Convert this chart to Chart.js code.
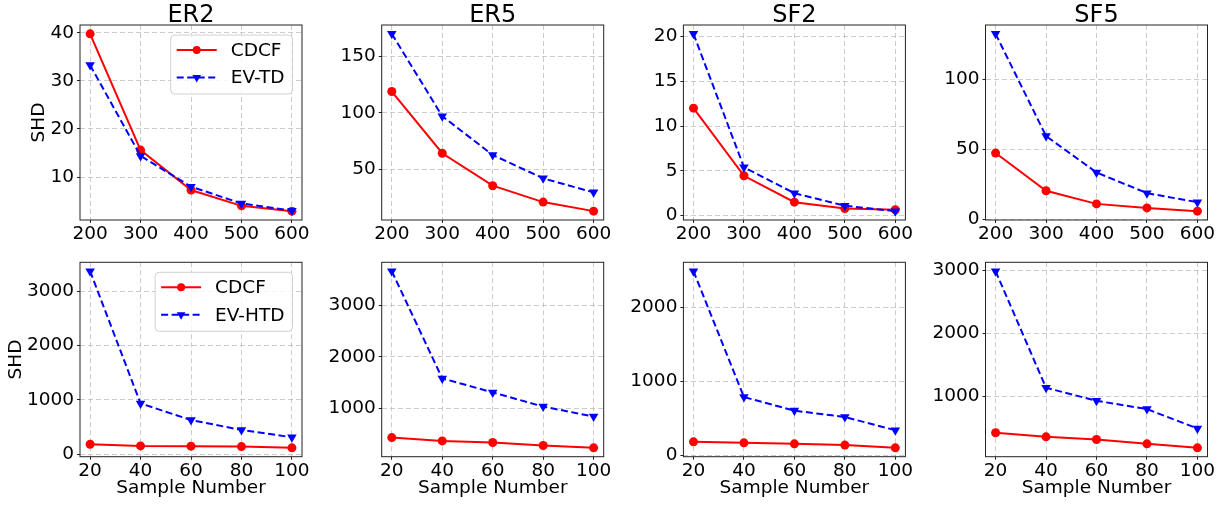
<!DOCTYPE html>
<html>
<head>
<meta charset="utf-8">
<script src="https://cdn.jsdelivr.net/npm/chart.js@4.4.1/dist/chart.umd.min.js"></script>
<style>
  html, body { margin: 0; padding: 0; background: #fff; }
  body { width: 1226px; height: 508px; position: relative; overflow: hidden; }
  .panel { position: absolute; }
</style>
</head>
<body>
<script>
// x categories
const sampleTop = [200, 300, 400, 500, 600];
const sampleBottom = [20, 40, 60, 80, 100];
const titles = ['ER2', 'ER5', 'SF2', 'SF5'];

// top row: CDCF vs EV-TD
const cdcfER2 = [39.8, 15.6, 7.3, 4.0, 2.9];
const evtdER2 = [33.3, 14.4, 8.0, 4.5, 3.0];
const cdcfER5 = [118.8, 64.2, 35.5, 21.0, 13.0];
const evtdER5 = [169.8, 97.0, 62.7, 42.0, 29.6];
const cdcfSF2 = [12.0, 4.45, 1.5, 0.8, 0.65];
const evtdSF2 = [20.3, 5.4, 2.5, 1.1, 0.5];
const cdcfSF5 = [47.4, 20.4, 11.0, 8.1, 5.8];
const evtdSF5 = [132.8, 59.6, 33.5, 18.7, 12.2];

// bottom row: CDCF vs EV-HTD
const cdcfER2h = [183, 152, 147, 140, 116];
const evhtdER2 = [3367, 934, 628, 445, 310];
const cdcfER5h = [440, 376, 344, 286, 241];
const evhtdER5 = [3656, 1583, 1313, 1039, 846];
const cdcfSF2h = [179, 166, 152, 135, 98];
const evhtdSF2 = [2485, 784, 601, 515, 336];
const cdcfSF5h = [415, 351, 309, 239, 175];
const evhtdSF5 = [2990, 1132, 925, 793, 485];

// y tick labels per panel
const yTicksTop = [[10, 20, 30, 40], [50, 100, 150], [0, 5, 10, 15, 20], [0, 50, 100]];
const yTicksBottom = [[0, 1000, 2000, 3000], [1000, 2000, 3000], [0, 1000, 2000], [1000, 2000, 3000]];

const FONT = "'DejaVu Sans', sans-serif";
const FS = 18.5;

// plot box geometry (pixels)
const boxLefts = [80, 381.7, 683.4, 985.5];
const boxW = 222;

// frame around the axes
const framePlugin = {
    id: 'frame',
    afterDatasetsDraw(chart) {
        const a = chart.chartArea;
        const ctx = chart.ctx;
        ctx.save();
        ctx.strokeStyle = '#222';
        ctx.lineWidth = 1;
        ctx.strokeRect(a.left, a.top, a.right - a.left, a.bottom - a.top);
        ctx.restore();
    }
};

function drawMarker(ctx, style, x, y, r) {
    ctx.beginPath();
    if (style === 'circle') {
        ctx.arc(x, y, r, 0, Math.PI * 2);
    } else {
        // downward triangle
        ctx.moveTo(x, y + r);
        ctx.lineTo(x - r * 0.866, y - r * 0.5);
        ctx.lineTo(x + r * 0.866, y - r * 0.5);
        ctx.closePath();
    }
    ctx.fill();
}

// matplotlib style legend box in the upper right corner
const legendPlugin = {
    id: 'boxLegend',
    afterDraw(chart, args, opts) {
        if (!opts.show) return;
        const { ctx, chartArea: a } = chart;
        const sets = chart.data.datasets;
        ctx.save();
        ctx.font = FS + 'px ' + FONT;
        const tw = Math.max(...sets.map(d => ctx.measureText(d.label).width));
        const w = 6 + 40 + 14 + tw + 8;
        const h = 59;
        const x = a.right - 9.5 - w;
        const y = a.top + 10;
        ctx.beginPath();
        ctx.roundRect(x, y, w, h, 4);
        ctx.fillStyle = 'rgba(255,255,255,0.8)';
        ctx.fill();
        ctx.strokeStyle = '#d0d0d0';
        ctx.lineWidth = 1;
        ctx.stroke();
        sets.forEach((d, i) => {
            const ry = y + 15 + i * 27.5;
            const lx = x + 6;
            ctx.strokeStyle = d.borderColor;
            ctx.lineWidth = d.borderWidth;
            ctx.setLineDash(d.borderDash || []);
            ctx.beginPath();
            ctx.moveTo(lx, ry);
            ctx.lineTo(lx + 40, ry);
            ctx.stroke();
            ctx.setLineDash([]);
            ctx.fillStyle = d.borderColor;
            drawMarker(ctx, d.pointStyle, lx + 20, ry, d.pointStyle === 'circle' ? 4 : 5);
            ctx.fillStyle = '#000';
            ctx.textBaseline = 'middle';
            ctx.textAlign = 'left';
            ctx.fillText(d.label, lx + 54, ry + 1);
        });
        ctx.restore();
    }
};

function makePanel(p) {
    const div = document.createElement('div');
    div.className = 'panel';
    const canvasLeft = Math.round(p.boxLeft - 80);
    const axisW = p.boxLeft - canvasLeft;
    const canvasW = Math.round(axisW + boxW + 24);
    const padRight = canvasW - axisW - boxW;
    div.style.left = canvasLeft + 'px';
    div.style.top = p.canvasTop + 'px';
    div.style.width = canvasW + 'px';
    div.style.height = p.canvasH + 'px';
    const canvas = document.createElement('canvas');
    div.appendChild(canvas);
    document.body.appendChild(div);

    // matplotlib-like 5% margins
    const all = p.a.concat(p.b);
    const lo = Math.min(...all), hi = Math.max(...all);
    const span = hi - lo;
    const xs = p.x;
    const xSpan = xs[xs.length - 1] - xs[0];

    const gridOpts = {
        color: 'rgba(176,176,176,0.65)',
        lineWidth: 1,
        tickLength: 3,
        tickColor: '#222',
        tickWidth: 1,
        tickBorderDash: []
    };

    new Chart(canvas, {
        type: 'line',
        data: {
            datasets: [{
                label: 'CDCF',
                data: xs.map((v, i) => ({ x: v, y: p.a[i] })),
                borderColor: '#ff0000',
                backgroundColor: '#ff0000',
                borderWidth: 2,
                pointStyle: 'circle',
                pointRadius: 4.5,
                pointBorderWidth: 0,
                pointBackgroundColor: '#ff0000',
                tension: 0,
                order: 2
            }, {
                label: p.bName,
                data: xs.map((v, i) => ({ x: v, y: p.b[i] })),
                borderColor: '#0000ff',
                backgroundColor: '#0000ff',
                borderWidth: 2,
                borderDash: [7, 3.5],
                pointStyle: 'triangle',
                pointRotation: 180,
                pointRadius: 5.5,
                pointBorderWidth: 0,
                pointBackgroundColor: '#0000ff',
                tension: 0,
                order: 1
            }]
        },
        options: {
            responsive: true,
            maintainAspectRatio: false,
            animation: false,
            devicePixelRatio: 1,
            layout: { padding: { left: 0, right: padRight, top: p.padTop, bottom: 0 } },
            plugins: {
                legend: { display: false },
                tooltip: { enabled: false },
                title: {
                    display: !!p.title,
                    fullSize: false,
                    text: p.title,
                    color: '#000',
                    font: { family: FONT, size: 24, weight: 'normal', lineHeight: 0.9 },
                    padding: { top: 5.4, bottom: -2 }
                },
                boxLegend: { show: p.legend }
            },
            scales: {
                x: {
                    type: 'linear',
                    min: xs[0] - 0.05 * xSpan,
                    max: xs[xs.length - 1] + 0.05 * xSpan,
                    afterBuildTicks: s => { s.ticks = xs.map(v => ({ value: v })); },
                    afterFit: s => { s.height = p.xAxisH; s.paddingLeft = 0; s.paddingRight = 0; },
                    ticks: {
                        color: '#000',
                        font: { family: FONT, size: FS },
                        padding: 0.5,
                        maxRotation: 0,
                        autoSkip: false,
                        callback: v => String(v)
                    },
                    grid: gridOpts,
                    border: { display: false, dash: [5, 3] },
                    title: {
                        display: p.xTitle,
                        text: 'Sample Number',
                        color: '#000',
                        font: { family: FONT, size: FS },
                        padding: { top: 0, bottom: 3.3 }
                    }
                },
                y: {
                    type: 'linear',
                    min: lo - 0.05 * span,
                    max: hi + 0.05 * span,
                    afterBuildTicks: s => { s.ticks = p.yTicks.map(v => ({ value: v })); },
                    afterFit: s => { s.width = axisW; s.paddingTop = 0; s.paddingBottom = 0; },
                    ticks: {
                        color: '#000',
                        font: { family: FONT, size: FS },
                        padding: 3,
                        autoSkip: false,
                        callback: v => String(v)
                    },
                    grid: gridOpts,
                    border: { display: false, dash: [5, 3] },
                    title: {
                        display: p.yTitle,
                        text: 'SHD',
                        color: '#000',
                        font: { family: FONT, size: FS },
                        padding: { top: p.yTitlePad, bottom: 0 }
                    }
                }
            }
        },
        plugins: [framePlugin, legendPlugin]
    });
}

const topA = [cdcfER2, cdcfER5, cdcfSF2, cdcfSF5];
const topB = [evtdER2, evtdER5, evtdSF2, evtdSF5];
const botA = [cdcfER2h, cdcfER5h, cdcfSF2h, cdcfSF5h];
const botB = [evhtdER2, evhtdER5, evhtdSF2, evhtdSF5];

for (let c = 0; c < 4; c++) {
    // top row: chart area 25 .. 220
    makePanel({
        boxLeft: boxLefts[c], canvasTop: 0, canvasH: 250, padTop: 0, xAxisH: 30,
        title: titles[c], x: sampleTop, a: topA[c], b: topB[c], bName: 'EV-TD',
        yTicks: yTicksTop[c], legend: c === 0, xTitle: false,
        yTitle: c === 0, yTitlePad: 28
    });
    // bottom row: chart area 262.3 .. 456.7
    makePanel({
        boxLeft: boxLefts[c], canvasTop: 252, canvasH: 251, padTop: 10.3, xAxisH: 46.3,
        title: '', x: sampleBottom, a: botA[c], b: botB[c], bName: 'EV-HTD',
        yTicks: yTicksBottom[c], legend: c === 0, xTitle: true,
        yTitle: c === 0, yTitlePad: 4.6
    });
}
</script>
</body>
</html>
